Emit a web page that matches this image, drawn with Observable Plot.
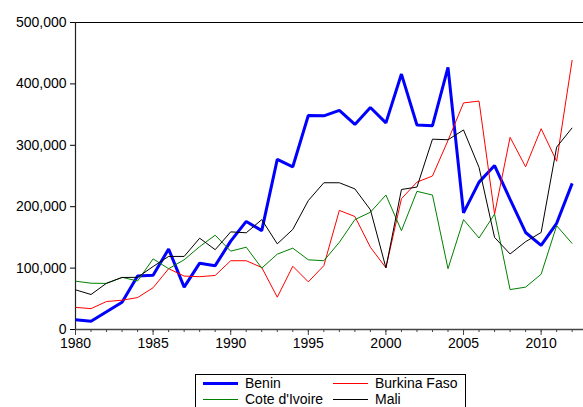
<!DOCTYPE html>
<html>
<head>
<meta charset="utf-8">
<script src="https://cdn.jsdelivr.net/npm/d3@7"></script>
<script src="https://cdn.jsdelivr.net/npm/@observablehq/plot@0.6"></script>
<style>
  body { margin: 0; background: #fff; font-family: "Liberation Sans", Arial, sans-serif; overflow: hidden; }
  #chart svg { display: block; }
  #legend {
    position: absolute; left: 195px; top: 374px; width: 269px; height: 40px;
    border: 1px solid #000; box-sizing: content-box; font-size: 14px; color: #000;
  }
  .item { position: absolute; display: flex; align-items: center; height: 16px; line-height: 16px; }
  .swatch { width: 35px; margin-right: 7px; }
</style>
</head>
<body>
<div id="chart"></div>
<div id="legend"></div>
<script>
const years = [1980,1981,1982,1983,1984,1985,1986,1987,1988,1989,1990,1991,1992,1993,1994,1995,1996,1997,1998,1999,2000,2001,2002,2003,2004,2005,2006,2007,2008,2009,2010,2011,2012];
const benin = [16000,13500,29000,44500,87000,88500,131000,69000,108000,104000,144000,176000,161000,277000,265000,348500,348000,357000,334000,361500,336500,416000,333000,332000,427000,190000,240000,267000,212000,158000,137000,173000,238000];
const burkinaFaso = [36000,34000,45600,47700,52000,68000,99000,87000,86000,88000,112000,112000,101000,52600,103000,77600,104000,194000,184000,134000,100500,213000,240000,250000,308000,369000,372000,188000,313000,265000,327000,274000,439000];
const coteDIvoire = [78700,75400,75000,85000,79000,115000,99000,113500,135000,153600,127600,134000,100000,122700,132500,113500,112000,142000,179000,191000,219000,161000,225000,219000,99000,179000,149000,188000,65000,69000,90000,169000,140000];
const mali = [64600,57000,75400,84700,85000,102600,119000,119000,148700,130000,159000,157500,179000,139500,163000,210000,239000,239000,229000,195000,100500,228000,232000,310000,309000,325000,264000,150000,123000,143000,158000,297000,328500];
const seriesNames = ["Benin", "Burkina Faso", "Cote d'Ivoire", "Mali"];
const seriesColors = ["#0000ff", "#ff0000", "#008000", "#000000"];
const seriesWidths = [3, 1, 1, 1];
const yTicks = [0, 100000, 200000, 300000, 400000, 500000];
const xMajorTicks = [1980, 1985, 1990, 1995, 2000, 2005, 2010];

const allSeries = [benin, burkinaFaso, coteDIvoire, mali];
const rows = allSeries.map(vals => years.map((year, i) => ({year, value: vals[i]})));

const plot = Plot.plot({
  width: 583,
  height: 360,
  marginLeft: 75,
  marginRight: 0,
  marginTop: 22,
  marginBottom: 31,
  style: {fontFamily: "'Liberation Sans', Arial, sans-serif", fontSize: "14px", color: "#000", background: "#fff"},
  x: {domain: [1980, 2012.73], label: null},
  y: {domain: [0, 500000], label: null},
  marks: [
    Plot.ruleY([500000], {stroke: "#000", strokeWidth: 1.2}),
    Plot.ruleX([1980], {stroke: "#222", strokeWidth: 1.2}),
    Plot.ruleY([0], {stroke: "#444", strokeWidth: 1.5}),
    Plot.axisY({ticks: yTicks, tickFormat: d3.format(","), tickSize: 5, tickPadding: 4, stroke: "#000", fill: "#000", fontSize: 14}),
    Plot.axisX({ticks: years, tickFormat: () => "", tickSize: 3, stroke: "#444", label: null}),
    Plot.axisX({ticks: xMajorTicks, tickFormat: d => String(d), tickSize: 6, tickPadding: 3, stroke: "#444", fill: "#000", fontSize: 14, label: null}),
    ...rows.map((r, k) => Plot.line(r, {x: "year", y: "value", stroke: seriesColors[k], strokeWidth: seriesWidths[k], strokeLinejoin: "miter", strokeLinecap: "butt"}))
  ]
});
document.getElementById("chart").appendChild(plot);

const legend = document.getElementById("legend");
const pos = [[7, 0], [137, 0], [7, 16], [137, 16]];
seriesNames.forEach((name, k) => {
  const item = document.createElement("div");
  item.className = "item";
  item.style.left = pos[k][0] + "px";
  item.style.top = pos[k][1] + "px";
  const sw = document.createElement("div");
  sw.className = "swatch";
  sw.style.borderTop = seriesWidths[k] + "px solid " + seriesColors[k];
  const label = document.createElement("span");
  label.textContent = name;
  item.appendChild(sw);
  item.appendChild(label);
  legend.appendChild(item);
});
</script>
</body>
</html>
